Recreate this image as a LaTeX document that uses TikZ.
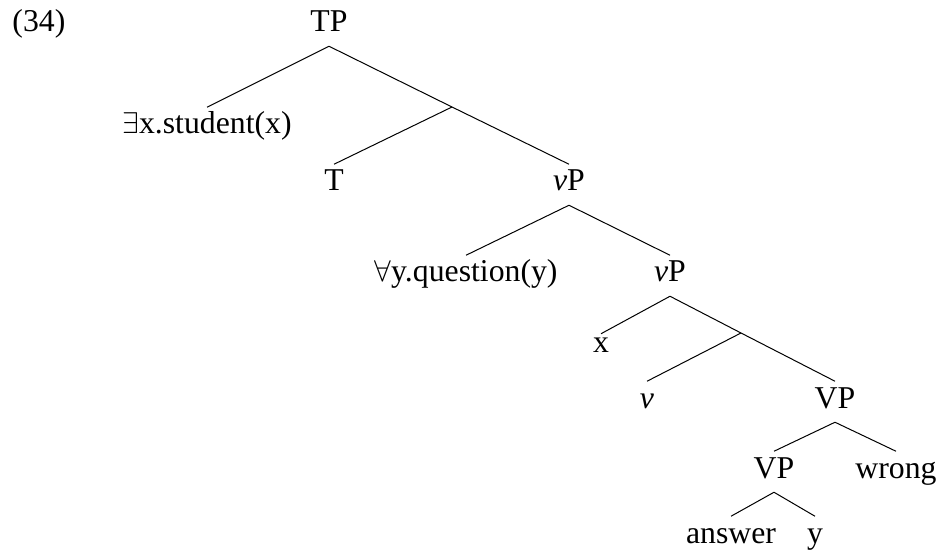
\documentclass[tikz,border=0pt]{standalone}
\usepackage{fontspec}
\setmainfont{Liberation Serif}
\begin{document}
\begin{tikzpicture}[x=0.4pt,y=-0.4pt,
  cat/.style={anchor=base,inner xsep=0pt,inner ysep=2.5pt,text height=8pt,text depth=3pt,font=\fontsize{12.7}{15}\selectfont}]
\useasboundingbox (0,0) rectangle (940,552);

\node[cat,anchor=base west] (ex) at (12,32) {(34)};

\node[cat] (TP) at (329,32) {TP};
\node[cat] (exists) at (207,134) {$\exists$x.student(x)};
\coordinate (bar1) at (452,107);
\node[cat] (T) at (334,191) {T};
\node[cat] (vP) at (569,191) {\textit{v}P};
\node[cat] (forall) at (466,282) {$\forall$y.question(y)};
\node[cat] (vPb) at (670,282) {\textit{v}P};
\node[cat,text height=5pt] (x) at (601,353) {x};
\coordinate (bar2) at (741,333);
\node[cat] (v) at (647,408) {\textit{v}};
\node[cat] (VP) at (835,408) {VP};
\node[cat] (VPb) at (774,478) {VP};
\node[cat] (wrong) at (896,478) {wrong};
\node[cat] (answer) at (731,543) {answer};
\node[cat] (y) at (815,543) {y};

\draw (TP.south)--(exists.north);
\draw (TP.south)--(bar1)--(vP.north);
\draw (bar1)--(T.north);
\draw (vP.south)--(forall.north);
\draw (vP.south)--(vPb.north);
\draw (vPb.south)--(x.north);
\draw (vPb.south)--(bar2)--(VP.north);
\draw (bar2)--(v.north);
\draw (VP.south)--(VPb.north);
\draw (VP.south)--(wrong.north);
\draw (VPb.south)--(answer.north);
\draw (VPb.south)--(y.north);
\end{tikzpicture}
\end{document}
